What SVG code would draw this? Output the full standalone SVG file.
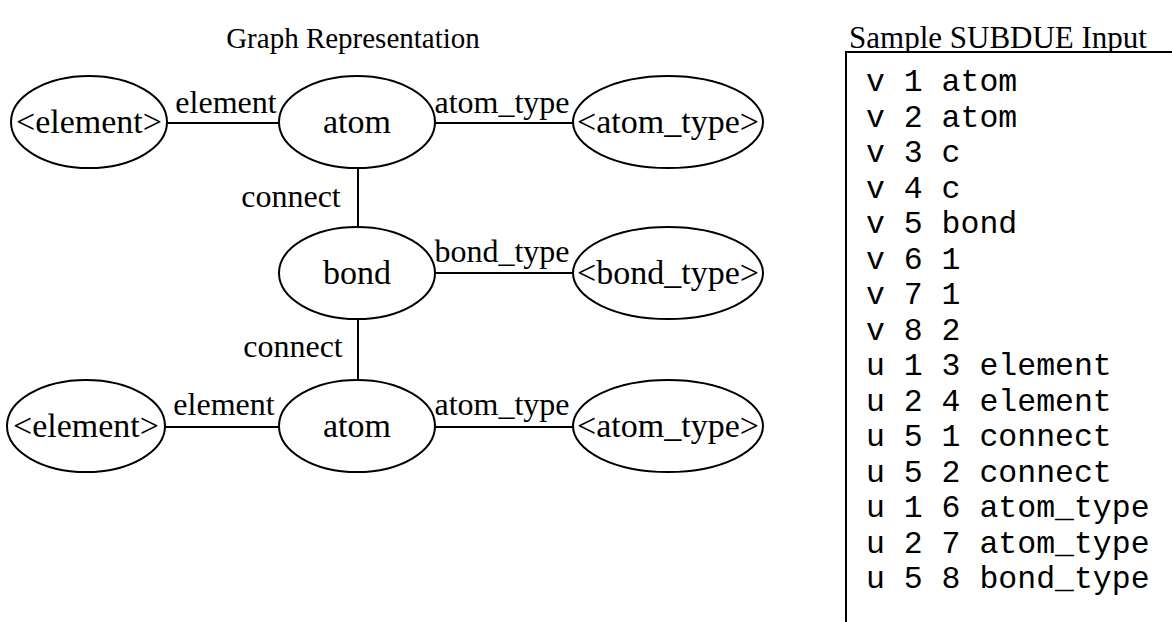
<svg xmlns="http://www.w3.org/2000/svg" width="1172" height="622" viewBox="0 0 1172 622">
<style>
.n{fill:#fff;stroke:#000;stroke-width:2}
.t{font-family:"Liberation Serif","Times New Roman",serif;font-size:34px;fill:#000}
.e{font-family:"Liberation Serif","Times New Roman",serif;font-size:32px;fill:#000}
.h{font-family:"Liberation Serif","Times New Roman",serif;font-size:29px;fill:#000}
.c{stroke:#000;stroke-width:2;fill:none}
.m{font-family:"Liberation Mono","Courier New",monospace;font-size:31.5px;fill:#000}
</style>
<rect width="1172" height="622" fill="#fff"/>
<text class="h" x="353" y="48" text-anchor="middle">Graph Representation</text>
<text class="h" x="998" y="48" text-anchor="middle" style="font-size:31px">Sample SUBDUE Input</text>
<g id="connectors">
<line class="c" x1="167" y1="123" x2="279" y2="123"/>
<line class="c" x1="435" y1="123" x2="573" y2="123"/>
<line class="c" x1="358" y1="168" x2="358" y2="227"/>
<line class="c" x1="435" y1="273" x2="573" y2="273"/>
<line class="c" x1="358" y1="319" x2="358" y2="381"/>
<line class="c" x1="165" y1="427" x2="279" y2="427"/>
<line class="c" x1="435" y1="427" x2="573" y2="427"/>
<text class="e" x="226" y="113" text-anchor="middle">element</text>
<text class="e" x="502" y="113" text-anchor="middle">atom_type</text>
<text class="e" x="291" y="207" text-anchor="middle">connect</text>
<text class="e" x="502" y="262" text-anchor="middle">bond_type</text>
<text class="e" x="293" y="357" text-anchor="middle">connect</text>
<text class="e" x="224" y="415" text-anchor="middle">element</text>
<text class="e" x="502" y="415" text-anchor="middle">atom_type</text>
</g>
<g id="n_el1"><ellipse class="n" cx="89" cy="122" rx="78" ry="46"/><text class="t" x="89" y="133" text-anchor="middle">&lt;element&gt;</text></g>
<g id="n_atom1"><ellipse class="n" cx="357" cy="122" rx="78" ry="46"/><text class="t" x="357" y="133" text-anchor="middle">atom</text></g>
<g id="n_at1"><ellipse class="n" cx="668" cy="122" rx="95" ry="46"/><text class="t" x="668" y="133" text-anchor="middle">&lt;atom_type&gt;</text></g>
<g id="n_bond"><ellipse class="n" cx="357" cy="273" rx="78" ry="46"/><text class="t" x="357" y="284" text-anchor="middle">bond</text></g>
<g id="n_bt"><ellipse class="n" cx="668" cy="273" rx="95" ry="46"/><text class="t" x="668" y="284" text-anchor="middle">&lt;bond_type&gt;</text></g>
<g id="n_el2"><ellipse class="n" cx="86" cy="426" rx="79" ry="46"/><text class="t" x="86" y="437" text-anchor="middle">&lt;element&gt;</text></g>
<g id="n_atom2"><ellipse class="n" cx="357" cy="426" rx="78" ry="46"/><text class="t" x="357" y="437" text-anchor="middle">atom</text></g>
<g id="n_at2"><ellipse class="n" cx="668" cy="426" rx="95" ry="46"/><text class="t" x="668" y="437" text-anchor="middle">&lt;atom_type&gt;</text></g>
<g id="input">
<rect x="846" y="52" width="340" height="590" fill="#fff" stroke="#000" stroke-width="2"/>
<text class="m" x="866" xml:space="preserve"><tspan x="866" y="91">v 1 atom</tspan><tspan x="866" y="126.5">v 2 atom</tspan><tspan x="866" y="162">v 3 c</tspan><tspan x="866" y="197.5">v 4 c</tspan><tspan x="866" y="233">v 5 bond</tspan><tspan x="866" y="268.5">v 6 1</tspan><tspan x="866" y="304">v 7 1</tspan><tspan x="866" y="339.5">v 8 2</tspan><tspan x="866" y="375">u 1 3 element</tspan><tspan x="866" y="410.5">u 2 4 element</tspan><tspan x="866" y="446">u 5 1 connect</tspan><tspan x="866" y="481.5">u 5 2 connect</tspan><tspan x="866" y="517">u 1 6 atom_type</tspan><tspan x="866" y="552.5">u 2 7 atom_type</tspan><tspan x="866" y="588">u 5 8 bond_type</tspan></text>
</g>
</svg>
